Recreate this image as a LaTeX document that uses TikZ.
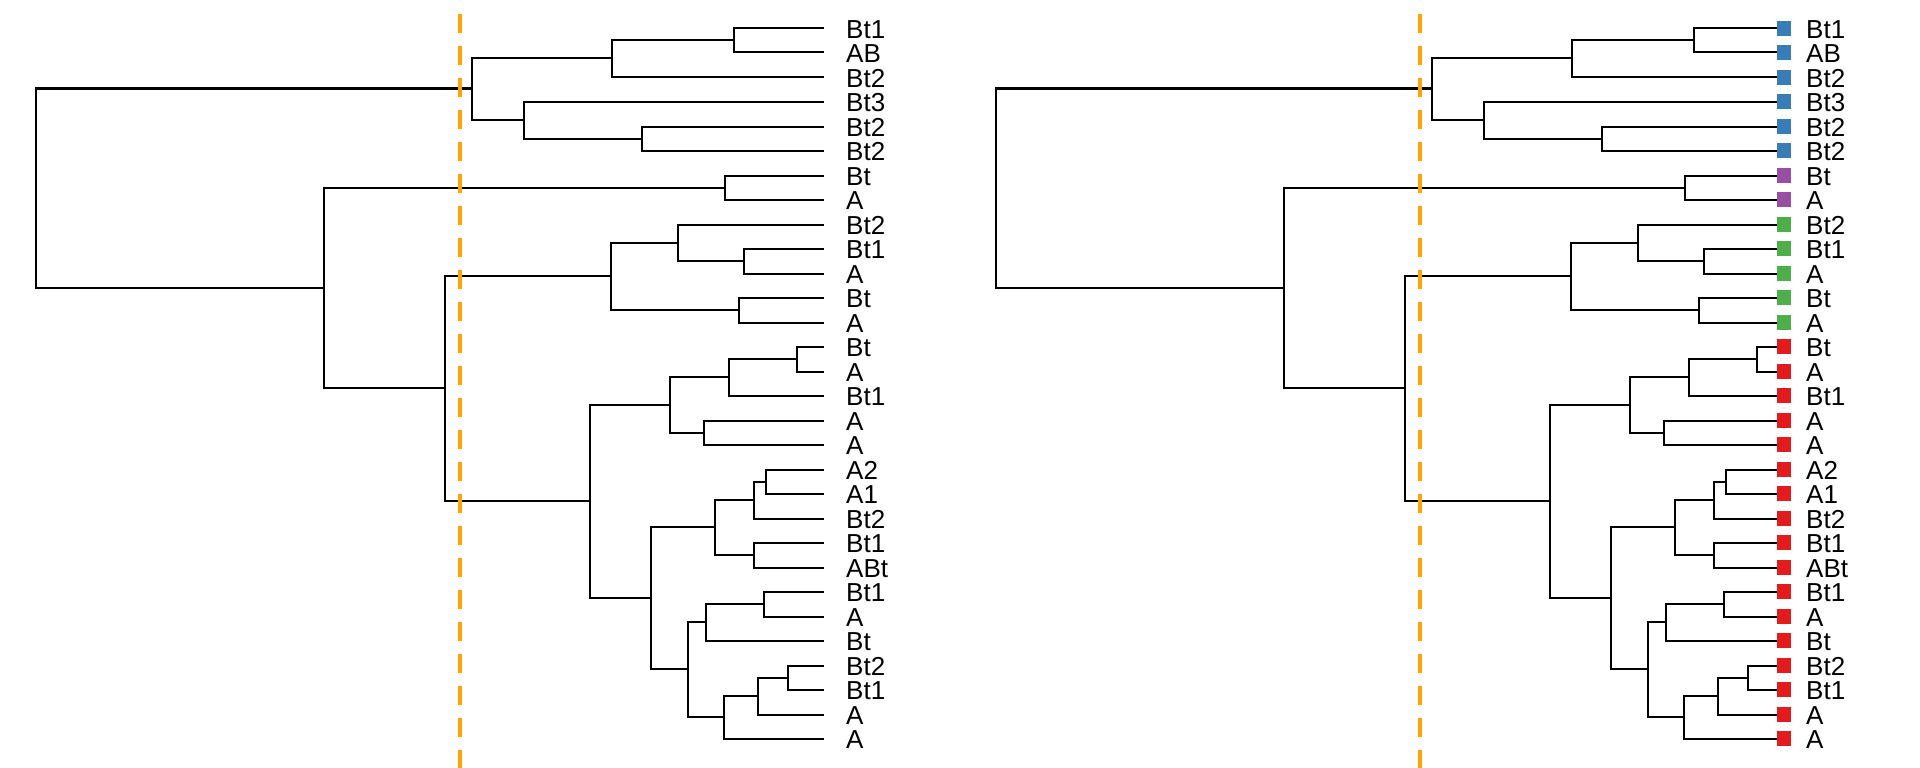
\documentclass[tikz,border=0pt]{standalone}
\usepackage{fontspec}
\setmainfont{Liberation Sans}
\usepackage{tikz}
\usetikzlibrary{calc}

\definecolor{cutline}{RGB}{255,165,0}
\definecolor{grpblue}{RGB}{55,126,184}
\definecolor{grppurple}{RGB}{152,78,163}
\definecolor{grpgreen}{RGB}{77,175,74}
\definecolor{grpred}{RGB}{228,26,28}

\tikzset{
  branch/.style={line width=2pt, black},
  cutheight/.style={line width=3.6pt, cutline, dash pattern=on 18.7pt off 13.3pt},
  leaflabel/.style={anchor=west, inner sep=0pt, font=\fontsize{26}{26}\selectfont,
                    text height=18.6pt, text depth=0pt, yshift=-1pt},
  marker/.style={minimum size=14.7pt, inner sep=0pt, fill=#1}
}

% join two children at height x, halfway between them (snapped to pixel centres)
\newcommand{\joinpair}[4]{%
  \path let \p1=(#3), \p2=(#4) in
    (#2pt+0.5pt,{(floor(0.5*\y1+0.5*\y2)+0.5)*1pt}) coordinate (#1);
  \draw[branch] (#3) -| (#1) |- (#4);
}

\newcommand{\dendro}[1]{%
  \foreach \lab [count=\i from 0] in {Bt1,AB,Bt2,Bt3,Bt2,Bt2,Bt,A,Bt2,Bt1,A,Bt,A,Bt,A,
                                      Bt1,A,A,A2,A1,Bt2,Bt1,ABt,Bt1,A,Bt,Bt2,Bt1,A,A} {
    \coordinate (#1l\i) at (824,{int(28+24.5*\i)+0.5});
    \node[leaflabel] (#1t\i) at (846,{int(28+24.5*\i)+0.5}) {\lab};
  }
  \joinpair{#1n01}{733}{#1l0}{#1l1}
  \joinpair{#1n012}{611}{#1n01}{#1l2}
  \joinpair{#1n45}{641}{#1l4}{#1l5}
  \joinpair{#1n345}{523}{#1l3}{#1n45}
  \joinpair{#1ntop}{471}{#1n012}{#1n345}
  \joinpair{#1n67}{724}{#1l6}{#1l7}
  \joinpair{#1n910}{743}{#1l9}{#1l10}
  \joinpair{#1n8910}{677}{#1l8}{#1n910}
  \joinpair{#1n1112}{738}{#1l11}{#1l12}
  \joinpair{#1ngreen}{610}{#1n8910}{#1n1112}
  \joinpair{#1n1314}{796}{#1l13}{#1l14}
  \joinpair{#1n1315}{728}{#1n1314}{#1l15}
  \joinpair{#1n1617}{703}{#1l16}{#1l17}
  \joinpair{#1n1317}{669}{#1n1315}{#1n1617}
  \joinpair{#1n1819}{765}{#1l18}{#1l19}
  \joinpair{#1n1820}{753}{#1n1819}{#1l20}
  \joinpair{#1n2122}{753}{#1l21}{#1l22}
  \joinpair{#1n1822}{714}{#1n1820}{#1n2122}
  \joinpair{#1n2324}{763}{#1l23}{#1l24}
  \joinpair{#1n2325}{705}{#1n2324}{#1l25}
  \joinpair{#1n2627}{787}{#1l26}{#1l27}
  \joinpair{#1n2628}{757}{#1n2627}{#1l28}
  \joinpair{#1n2629}{723}{#1n2628}{#1l29}
  \joinpair{#1n2329}{687}{#1n2325}{#1n2629}
  \joinpair{#1n1829}{650}{#1n1822}{#1n2329}
  \joinpair{#1nred}{589}{#1n1317}{#1n1829}
  \joinpair{#1nlow}{444}{#1ngreen}{#1nred}
  \joinpair{#1nbot}{323}{#1n67}{#1nlow}
  \joinpair{#1root}{35}{#1ntop}{#1nbot}
  \coordinate (#1cuttop) at (460,14);
  \coordinate (#1cutbot) at (460,768);
  \draw[cutheight] (#1cuttop) -- (#1cutbot);
}

\begin{document}
\begin{tikzpicture}[x=1pt, y=-1pt]
  \useasboundingbox (0,0) rectangle (1920,768);

  \dendro{L}

  \begin{scope}[xshift=960pt]
    \dendro{R}
    \foreach \col [count=\i from 0] in {grpblue,grpblue,grpblue,grpblue,grpblue,grpblue,
                                        grppurple,grppurple,
                                        grpgreen,grpgreen,grpgreen,grpgreen,grpgreen,
                                        grpred,grpred,grpred,grpred,grpred,grpred,grpred,grpred,grpred,
                                        grpred,grpred,grpred,grpred,grpred,grpred,grpred,grpred}
      \node[marker=\col] (Rm\i) at (Rl\i) {};
  \end{scope}
\end{tikzpicture}
\end{document}
